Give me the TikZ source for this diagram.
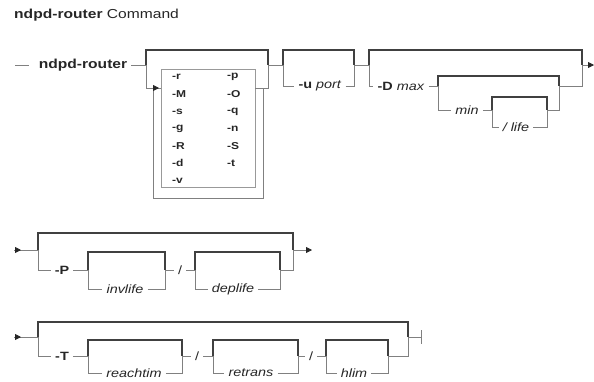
\documentclass[tikz,border=0pt]{standalone}
\usepackage{fontspec}
\setmainfont{Liberation Sans}
\newfontfamily\wide[FakeStretch=1.2]{Liberation Sans}
\usetikzlibrary{arrows.meta}
\tikzset{
  thk/.style={line width=2.2pt, draw=black!75},
  thn/.style={line width=0.8pt, draw=black!50},
  lbl/.style={font=\wide\fontsize{12}{14}\selectfont, inner xsep=4pt, inner ysep=0pt, text=black!85},
  flag/.style={font=\wide\bfseries\fontsize{10}{12}\selectfont, inner sep=0pt, anchor=west, text=black!85},
  tip/.style={-{Triangle[length=6pt,width=6pt,color=black!85]}},
}

\begin{document}
\begin{tikzpicture}[x=1pt,y=-1pt]
\useasboundingbox (0,0) rectangle (594,381);
% Title
\node[anchor=west, inner sep=0pt, font=\wide\fontsize{13}{15}\selectfont, text=black!85] (title) at (14,15) {\textbf{ndpd-router} Command};

% Row 1
\coordinate (s1) at (15,65);
\node[lbl, font=\wide\bfseries\fontsize{13}{15}\selectfont] (cmd) at (83,65) {ndpd-router};
\coordinate (Al) at (146,65); \coordinate (Ar) at (268,65);
\coordinate (Ab) at (146,88); \coordinate (Abr) at (268,88);
\coordinate (Bl) at (283,65); \coordinate (Br) at (354,65);
\coordinate (Cl) at (369,65); \coordinate (Cr) at (582,65);
\coordinate (e1) at (594,65);
\draw[thn] (s1) -- ([xshift=-6pt]cmd.west);
\draw[thn] (cmd.east) -- (Al);
% flags
\node[draw=black!40, line width=0.8pt, minimum width=94pt, minimum height=118pt, inner sep=0pt] (optbox) at (208,128) {};
\foreach \f [count=\i] in {r,M,s,g,R,d,v}
  \node[flag] (fl\i) at (172,60+17.2*\i) {-\f};
\foreach \f [count=\i] in {p,O,q,n,S,t}
  \node[flag] (fr\i) at (227,60+17.2*\i) {-\f};
\draw[thk] (Al) -- ++(0,-15) -| (Ar);
\draw[thn] (Al) -- (Ab) -- (Ab -| optbox.west);
\draw[thn] (Abr -| optbox.east) -- (Abr) -- (Ar);
% repeat loop
\draw[thn,tip] (263,88) -- (263,198) -- (153,198) -- (153,88) -- (159,88);
% -u port
\draw[thn] (Ar) -- (Bl);
\draw[thk] (Bl) -- ++(0,-15) -| (Br);
\node[lbl] (uport) at (320,86) {\textbf{-u} \textit{port}};
\draw[thn] (Bl) |- (uport.west);
\draw[thn] (uport.east) -| (Br);
% -D max min life
\draw[thn] (Br) -- (Cl);
\draw[thk] (Cl) -- ++(0,-15) -| (Cr);
\node[lbl] (dmax) at (401,86) {\textbf{-D} \textit{max}};
\draw[thn] (Cl) |- (dmax.west);
\coordinate (Dl) at (438,86); \coordinate (Dr) at (559,86);
\draw[thn] (dmax.east) -- (Dl);
\draw[thk] (Dl) -- ++(0,-10) -| (Dr);
\node[lbl] (min) at (467,110) {\textit{min}};
\draw[thn] (Dl) |- (min.west);
\coordinate (El) at (492,110); \coordinate (Er) at (547,110);
\draw[thn] (min.east) -- (El);
\draw[thk] (El) -- ++(0,-13) -| (Er);
\node[lbl] (life) at (516,127) {\textit{/ life}};
\draw[thn] (El) |- (life.west);
\draw[thn] (life.east) -| (Er);
\draw[thn] (Er) -| (Dr);
\draw[thn] (Dr) -| (Cr);
\draw[thn,tip] (Cr) -- (e1);

% Row 2
\coordinate (s2) at (14,250); \coordinate (Pl) at (38,250); \coordinate (Pr) at (293,250);
\coordinate (e2) at (312,250);
\draw[thn] (s2) -- (Pl);
\draw[thn,tip] (s2) -- ++(7,0);
\draw[thk] (Pl) -- ++(0,-17) -| (Pr);
\node[lbl, font=\wide\bfseries\fontsize{12}{14}\selectfont] (P) at (62,270) {-P};
\draw[thn] (Pl) |- (P.west);
\coordinate (Ql) at (88,270); \coordinate (Qr) at (165,270);
\draw[thn] (P.east) -- (Ql);
\draw[thk] (Ql) -- ++(0,-18) -| (Qr);
\node[lbl] (invlife) at (125,289) {\textit{invlife}};
\draw[thn] (Ql) |- (invlife.west);
\draw[thn] (invlife.east) -| (Qr);
\node[lbl] (sl1) at (180,270) {/};
\draw[thn] (Qr) -- (sl1.west);
\coordinate (Rl) at (195,270); \coordinate (Rr) at (280,270);
\draw[thn] (sl1.east) -- (Rl);
\draw[thk] (Rl) -- ++(0,-18) -| (Rr);
\node[lbl] (deplife) at (233,289) {\textit{deplife}};
\draw[thn] (Rl) |- (deplife.west);
\draw[thn] (deplife.east) -| (Rr);
\draw[thn] (Rr) -| (Pr);
\draw[thn,tip] (Pr) -- (e2);

% Row 3
\coordinate (s3) at (14,337); \coordinate (Tl) at (38,337); \coordinate (Tr) at (408,337);
\coordinate (e3) at (421,337);
\draw[thn] (s3) -- (Tl);
\draw[thn,tip] (s3) -- ++(7,0);
\draw[thk] (Tl) -- ++(0,-15) -| (Tr);
\node[lbl, font=\wide\bfseries\fontsize{12}{14}\selectfont] (T) at (62,356) {-T};
\draw[thn] (Tl) |- (T.west);
\coordinate (Ul) at (88,356); \coordinate (Ur) at (182,356);
\draw[thn] (T.east) -- (Ul);
\draw[thk] (Ul) -- ++(0,-16) -| (Ur);
\node[lbl] (reachtim) at (134,373) {\textit{reachtim}};
\draw[thn] (Ul) |- (reachtim.west);
\draw[thn] (reachtim.east) -| (Ur);
\node[lbl] (sl2) at (197,356) {/};
\draw[thn] (Ur) -- (sl2.west);
\coordinate (Vl) at (213,356); \coordinate (Vr) at (298,356);
\draw[thn] (sl2.east) -- (Vl);
\draw[thk] (Vl) -- ++(0,-16) -| (Vr);
\node[lbl] (retrans) at (251,373) {\textit{retrans}};
\draw[thn] (Vl) |- (retrans.west);
\draw[thn] (retrans.east) -| (Vr);
\node[lbl] (sl3) at (311,356) {/};
\draw[thn] (Vr) -- (sl3.west);
\coordinate (Wl) at (326,356); \coordinate (Wr) at (388,356);
\draw[thn] (sl3.east) -- (Wl);
\draw[thk] (Wl) -- ++(0,-16) -| (Wr);
\node[lbl] (hlim) at (354,373) {\textit{hlim}};
\draw[thn] (Wl) |- (hlim.west);
\draw[thn] (hlim.east) -| (Wr);
\draw[thn] (Wr) -| (Tr);
\draw[thn] (Tr) -- (e3);
\draw[thn] ([yshift=7pt]e3) -- ([yshift=-7pt]e3);
\end{tikzpicture}
\end{document}
